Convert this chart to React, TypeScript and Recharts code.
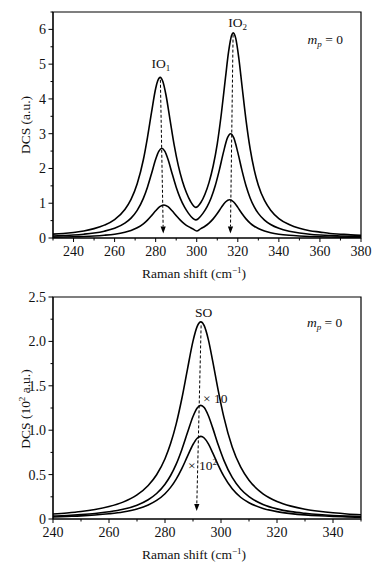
import React from 'react';
import {
  LineChart,
  Line,
  XAxis,
  YAxis,
  ReferenceLine,
  ReferenceDot,
  ReferenceArea,
} from 'recharts';

// ---- upper panel (IO modes) ----
const ioOuterX = [230, 235, 240, 245, 250, 255, 260, 265, 268, 271, 274, 276, 278, 280, 281, 282.2, 283.5, 285, 287, 289, 291, 293, 295, 297, 299.5, 302, 304, 306, 308, 310, 312, 314, 315.5, 317, 317.8, 319, 320.5, 322, 324, 326, 328, 330, 333, 336, 340, 345, 350, 355, 360, 365, 370, 375, 380];
const ioOuterY = [0.11, 0.13, 0.16, 0.2, 0.27, 0.37, 0.53, 0.82, 1.11, 1.56, 2.25, 2.89, 3.62, 4.3, 4.52, 4.62, 4.5, 4.12, 3.4, 2.68, 2.09, 1.64, 1.3, 1.05, 0.88, 1.02, 1.26, 1.6, 2.07, 2.71, 3.58, 4.61, 5.35, 5.83, 5.9, 5.74, 5.17, 4.4, 3.39, 2.57, 1.96, 1.52, 1.08, 0.8, 0.56, 0.39, 0.28, 0.21, 0.17, 0.13, 0.11, 0.09, 0.08];

const ioMiddleX = [230, 235, 240, 245, 250, 255, 260, 265, 268, 271, 274, 276, 278, 280, 281.5, 283, 284.5, 286, 288, 290, 292, 294, 296, 298, 299.5, 301, 303, 305, 307, 309, 311, 313, 315, 316.5, 318, 320, 322, 324, 326, 328, 330, 333, 336, 340, 345, 350, 355, 360, 365, 370, 375, 380];
const ioMiddleY = [0.057, 0.07, 0.086, 0.11, 0.143, 0.195, 0.278, 0.426, 0.571, 0.794, 1.139, 1.461, 1.856, 2.262, 2.49, 2.58, 2.49, 2.262, 1.856, 1.461, 1.139, 0.893, 0.709, 0.571, 0.52, 0.569, 0.708, 0.895, 1.152, 1.5, 1.951, 2.463, 2.885, 3.0, 2.885, 2.463, 1.951, 1.5, 1.152, 0.895, 0.708, 0.514, 0.387, 0.277, 0.194, 0.143, 0.11, 0.087, 0.07, 0.058, 0.049, 0.041];

const ioInnerX = [230, 235, 240, 245, 250, 255, 260, 265, 268, 271, 274, 276, 278, 280, 282, 284, 286, 288, 290, 292, 294, 296, 298, 300, 302, 304, 306, 308, 310, 312, 314, 316, 318, 320, 322, 324, 326, 328, 330, 333, 336, 340, 345, 350, 355, 360, 365, 370, 375, 380];
const ioInnerY = [0.024, 0.029, 0.036, 0.045, 0.058, 0.079, 0.11, 0.165, 0.217, 0.294, 0.409, 0.515, 0.644, 0.784, 0.902, 0.95, 0.902, 0.784, 0.644, 0.515, 0.409, 0.327, 0.265, 0.2, 0.271, 0.338, 0.429, 0.55, 0.704, 0.88, 1.035, 1.1, 1.035, 0.88, 0.704, 0.55, 0.429, 0.338, 0.271, 0.199, 0.152, 0.11, 0.078, 0.058, 0.044, 0.035, 0.029, 0.024, 0.02, 0.017];

const ioXTicks = [230, 240, 250, 260, 270, 280, 290, 300, 310, 320, 330, 340, 350, 360, 370, 380];
const ioYTicks = [0, 0.5, 1, 1.5, 2, 2.5, 3, 3.5, 4, 4.5, 5, 5.5, 6, 6.5];

// ---- lower panel (SO mode) ----
const soX = [240, 245, 250, 255, 260, 265, 270, 274, 277, 280, 282, 284, 286, 288, 290, 291.5, 292.8, 294, 295.5, 297, 299, 301, 304, 307, 310, 315, 320, 325, 330, 335, 340, 345, 350];
const soOuterY = [0.056, 0.068, 0.084, 0.107, 0.14, 0.19, 0.271, 0.377, 0.498, 0.679, 0.849, 1.071, 1.354, 1.683, 2.003, 2.169, 2.22, 2.177, 2.017, 1.784, 1.449, 1.15, 0.811, 0.586, 0.436, 0.284, 0.198, 0.145, 0.11, 0.087, 0.07, 0.057, 0.048];
const soMiddleY = [0.032, 0.039, 0.049, 0.062, 0.081, 0.109, 0.156, 0.217, 0.287, 0.392, 0.49, 0.618, 0.781, 0.97, 1.155, 1.251, 1.28, 1.255, 1.163, 1.029, 0.835, 0.663, 0.468, 0.338, 0.251, 0.164, 0.114, 0.083, 0.064, 0.05, 0.04, 0.033, 0.028];
const soInnerY = [0.023, 0.029, 0.035, 0.045, 0.059, 0.079, 0.113, 0.158, 0.209, 0.285, 0.356, 0.449, 0.567, 0.705, 0.839, 0.909, 0.93, 0.912, 0.845, 0.748, 0.607, 0.482, 0.34, 0.245, 0.183, 0.119, 0.083, 0.061, 0.046, 0.036, 0.029, 0.024, 0.02];

const soXTicks = [240, 250, 260, 270, 280, 290, 300, 310, 320, 330, 340, 350];
const soYTicks = [0, 0.25, 0.5, 0.75, 1, 1.25, 1.5, 1.75, 2, 2.25, 2.5];

const toPoints = (xs: number[], ys: number[]) => xs.map((x, i) => ({ x, y: ys[i] }));

const FONT = '"Liberation Serif", "Times New Roman", serif';
const INK = '#111';

const makeXTick = (isMajor: (v: number) => boolean) => (props: any) => {
  const { x, y, payload } = props;
  const major = isMajor(payload.value);
  return (
    <g>
      <line x1={x} y1={y} x2={x} y2={y + (major ? 4 : 2.5)} stroke="#000" strokeWidth={1} />
      {major && (
        <text x={x} y={y + 18} textAnchor="middle" fontFamily={FONT} fontSize={14} fill={INK}>
          {payload.value}
        </text>
      )}
    </g>
  );
};

const makeYTick = (isMajor: (v: number) => boolean, fmt: (v: number) => string) => (props: any) => {
  const { x, y, payload } = props;
  const major = isMajor(payload.value);
  return (
    <g>
      <line x1={x} y1={y} x2={x - (major ? 4.5 : 2.5)} y2={y} stroke="#000" strokeWidth={1} />
      {major && (
        <text x={x - 7} y={y + 5} textAnchor="end" fontFamily={FONT} fontSize={14} fill={INK}>
          {fmt(payload.value)}
        </text>
      )}
    </g>
  );
};

// dashed arrow pointing from the first segment point to the second
const DashedArrow = (props: any) => {
  const { x1, y1, x2, y2 } = props;
  const dx = x2 - x1;
  const dy = y2 - y1;
  const len = Math.sqrt(dx * dx + dy * dy) || 1;
  const ux = dx / len;
  const uy = dy / len;
  const head = 7;
  const bx = x2 - ux * head;
  const by = y2 - uy * head;
  const px = -uy * 2.6;
  const py = ux * 2.6;
  return (
    <g>
      <line x1={x1} y1={y1} x2={bx} y2={by} stroke="#000" strokeWidth={1} strokeDasharray="3 2" />
      <polygon points={`${x2},${y2} ${bx + px},${by + py} ${bx - px},${by - py}`} fill="#000" />
    </g>
  );
};

const TextMark = (content: React.ReactNode) => (props: any) => (
  <text x={props.cx} y={props.cy} fontFamily={FONT} fontSize={13.5} fill={INK}>
    {content}
  </text>
);

const mpLabel = (
  <>
    <tspan fontStyle="italic">m</tspan>
    <tspan fontStyle="italic" fontSize={9} dy={3}>p</tspan>
    <tspan dy={-3}> = 0</tspan>
  </>
);

const xTitle = (props: any) => {
  const vb = props.viewBox || { x: 0, y: 0, width: 0 };
  return (
    <text x={vb.x + vb.width / 2 - 13} y={vb.y + 40} textAnchor="middle" fontFamily={FONT} fontSize={13.5} fill={INK}>
      Raman shift (cm
      <tspan fontSize={9} dy={-5}>−1</tspan>
      <tspan dy={5}>)</tspan>
    </text>
  );
};

const yTitle = (label: React.ReactNode, cy: number) => () => (
  <text x={30} y={cy} transform={`rotate(-90, 30, ${cy})`} textAnchor="middle" fontFamily={FONT} fontSize={13.5} fill={INK}>
    {label}
  </text>
);

const App = () => {
  const lineProps = {
    type: 'monotone' as const,
    dataKey: 'y',
    stroke: '#000',
    strokeWidth: 1.6,
    dot: false,
    activeDot: false,
    isAnimationActive: false,
  };

  return (
    <div style={{ position: 'absolute', left: 0, top: 0, width: 380, height: 572, background: '#fff' }}>
      <LineChart width={380} height={286} margin={{ top: 12, right: 19, left: 13, bottom: 18 }}>
        <XAxis
          type="number"
          dataKey="x"
          domain={[230, 380]}
          ticks={ioXTicks}
          interval={0}
          allowDataOverflow
          height={30}
          tickSize={0}
          tickMargin={0}
          tickLine={false}
          stroke="#000"
          tick={makeXTick((v) => v % 20 === 0)}
          label={{ content: xTitle }}
        />
        <YAxis
          type="number"
          domain={[0, 6.5]}
          ticks={ioYTicks}
          interval={0}
          allowDataOverflow
          width={40}
          tickSize={0}
          tickMargin={0}
          tickLine={false}
          stroke="#000"
          tick={makeYTick((v) => Number.isInteger(v), (v) => String(v))}
          label={{ content: yTitle('DCS (a.u.)', 125) }}
        />
        <ReferenceArea x1={230} x2={380} y1={0} y2={6.5} fill="none" stroke="#000" strokeWidth={1.2} />
        <Line {...lineProps} data={toPoints(ioOuterX, ioOuterY)} />
        <Line {...lineProps} data={toPoints(ioMiddleX, ioMiddleY)} />
        <Line {...lineProps} data={toPoints(ioInnerX, ioInnerY)} />
        <ReferenceLine segment={[{ x: 282.3, y: 4.55 }, { x: 283.7, y: 0.13 }]} shape={DashedArrow} />
        <ReferenceLine segment={[{ x: 317.7, y: 5.85 }, { x: 316.4, y: 0.13 }]} shape={DashedArrow} />
        <ReferenceDot x={278} y={4.88} r={0} shape={TextMark(<>IO<tspan fontSize={9} dy={3}>1</tspan></>)} />
        <ReferenceDot x={315.4} y={6.08} r={0} shape={TextMark(<>IO<tspan fontSize={9} dy={3}>2</tspan></>)} />
        <ReferenceDot x={354} y={5.58} r={0} shape={TextMark(mpLabel)} />
      </LineChart>

      <LineChart width={380} height={286} margin={{ top: 11, right: 19, left: 13, bottom: 23 }}>
        <XAxis
          type="number"
          dataKey="x"
          domain={[240, 350]}
          ticks={soXTicks}
          interval={0}
          allowDataOverflow
          height={30}
          tickSize={0}
          tickMargin={0}
          tickLine={false}
          stroke="#000"
          tick={makeXTick((v) => v % 20 === 0)}
          label={{ content: xTitle }}
        />
        <YAxis
          type="number"
          domain={[0, 2.5]}
          ticks={soYTicks}
          interval={0}
          allowDataOverflow
          width={40}
          tickSize={0}
          tickMargin={0}
          tickLine={false}
          stroke="#000"
          tick={makeYTick((v) => Math.abs(v * 2 - Math.round(v * 2)) < 1e-6, (v) => (v === 0 ? '0' : v.toFixed(1)))}
          label={{
            content: yTitle(
              <>
                DCS (10<tspan fontSize={9} dy={-5}>2</tspan>
                <tspan dy={5}> a.u.)</tspan>
              </>,
              123
            ),
          }}
        />
        <ReferenceArea x1={240} x2={350} y1={0} y2={2.5} fill="none" stroke="#000" strokeWidth={1.2} />
        <Line {...lineProps} data={toPoints(soX, soOuterY)} />
        <Line {...lineProps} data={toPoints(soX, soMiddleY)} />
        <Line {...lineProps} data={toPoints(soX, soInnerY)} />
        <ReferenceLine segment={[{ x: 292.9, y: 2.18 }, { x: 291.3, y: 0.09 }]} shape={DashedArrow} />
        <ReferenceDot x={290.7} y={2.28} r={0} shape={TextMark('SO')} />
        <ReferenceDot x={293.6} y={1.306} r={0} shape={TextMark('× 10')} />
        <ReferenceDot
          x={288.2}
          y={0.555}
          r={0}
          shape={TextMark(<>× 10<tspan fontSize={9} dy={-5}>2</tspan></>)}
        />
        <ReferenceDot x={330.7} y={2.165} r={0} shape={TextMark(mpLabel)} />
      </LineChart>
    </div>
  );
};

export default App;
